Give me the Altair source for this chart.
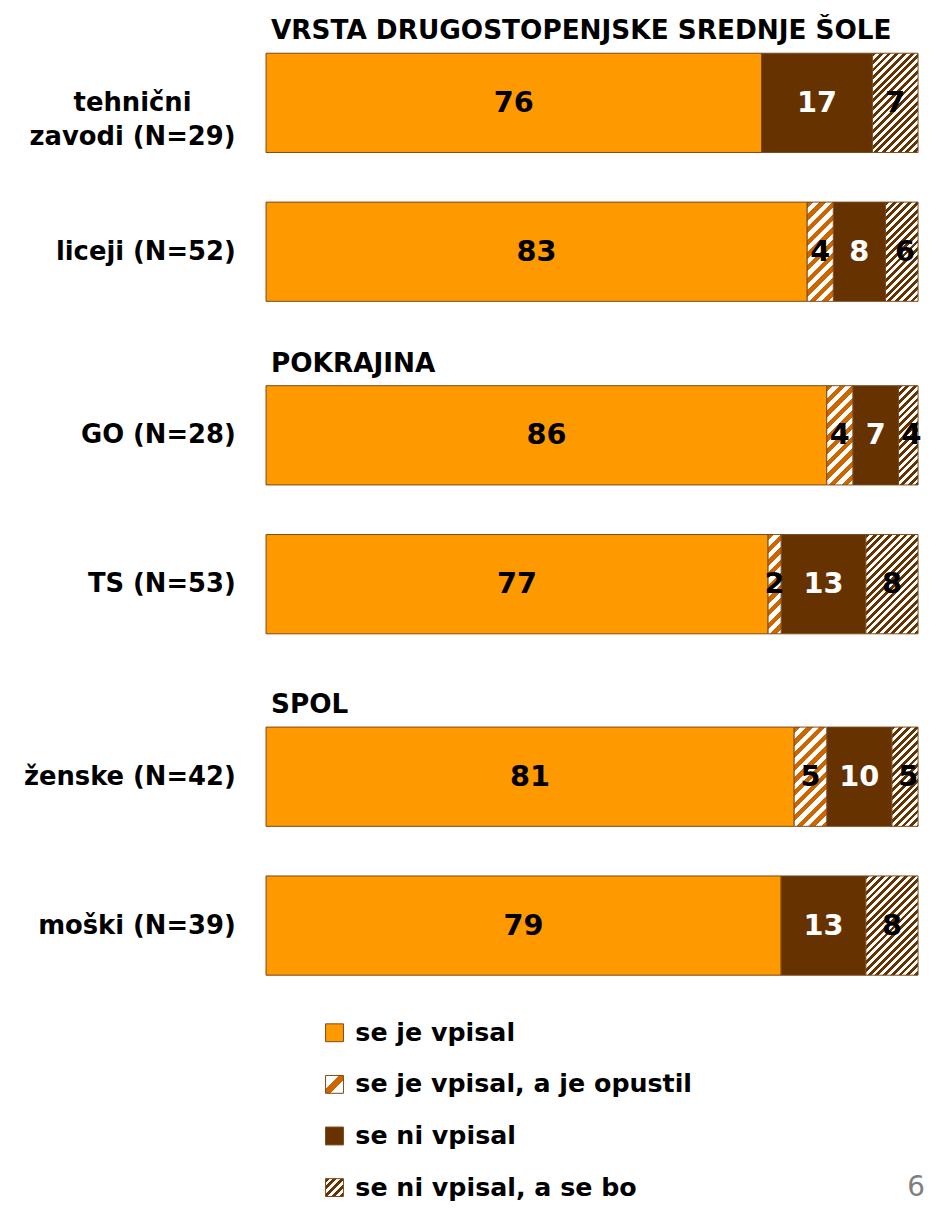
import math
import altair as alt
import pandas as pd

# ---------------- data ----------------
groups = ["VRSTA DRUGOSTOPENJSKE SREDNJE ŠOLE", "POKRAJINA", "SPOL"]
rows = ["tehnični\nzavodi (N=29)", "liceji (N=52)", "GO (N=28)", "TS (N=53)",
        "ženske (N=42)", "moški (N=39)"]
row_group = [0, 0, 1, 1, 2, 2]
categories = ["se je vpisal", "se je vpisal, a je opustil", "se ni vpisal",
              "se ni vpisal, a se bo"]
enrolled = [76, 83, 86, 77, 81, 79]
enrolled_dropped = [0, 4, 4, 2, 5, 0]
not_enrolled = [17, 8, 7, 13, 10, 13]
not_enrolled_will = [7, 6, 4, 8, 5, 8]
page_number = "6"

# ---------------- style ----------------
FONT = "DejaVu Sans"
ORANGE = "#FF9900"
BROWN = "#663300"
HATCH_ORANGE = "#CC6600"
EDGE = "#7A4A1A"
PW = 657          # plot width
STEP = 150        # band step (bar 100 px)
HATCHED = {categories[1]: (HATCH_ORANGE, 9.0), categories[3]: (BROWN, 5.5)}
MULTI = "indexof(datum.value, '\\n') >= 0"

series = [enrolled, enrolled_dropped, not_enrolled, not_enrolled_will]
recs = []
for i, r in enumerate(rows):
    s = 0
    for c, (cat, vals) in enumerate(zip(categories, series)):
        v = vals[i]
        if v > 0:
            recs.append(dict(group=groups[row_group[i]], row=r, cat=cat, order=c,
                             value=v, start=s, end=s + v, mid=s + v / 2))
        s += v
df = pd.DataFrame(recs)


def hatch(W, H, period, color, frac=0.5, bg="white"):
    denom = W * W + H * H
    dt = period * math.sqrt(2) * W / denom
    tmax = min(1.0, (W + H) * W / denom)
    stops = []
    t = 0.0
    while t < tmax:
        t1 = min(t + dt * frac, 1.0)
        t2 = min(t + dt, 1.0)
        stops += [{"offset": round(t, 5), "color": color},
                  {"offset": round(t1, 5), "color": color},
                  {"offset": round(t1, 5), "color": bg},
                  {"offset": round(t2, 5), "color": bg}]
        t = t2
    return {"gradient": "linear", "x1": 0, "y1": 0, "x2": 1,
            "y2": round(H / W, 5), "stops": stops}


def panel(gi, bottom_pad, title_offset):
    g = groups[gi]
    d = df[df["group"] == g]
    ydom = [r for r, k in zip(rows, row_group) if k == gi]
    po = bottom_pad / (2 * STEP)
    yenc = alt.Y("row:N", sort=ydom, title=None,
                 scale=alt.Scale(domain=ydom, paddingInner=1 / 3, paddingOuter=po, align=0),
                 axis=alt.Axis(labelFont=FONT, labelFontSize=26, labelFontWeight="bold",
                               labelColor="black", ticks=False, domain=False,
                               labelAlign={"condition": {"test": MULTI, "value": "center"}, "value": "right"},
                               labelPadding={"condition": {"test": MULTI, "value": 135}, "value": 31},
                               labelLineHeight=34, labelLimit=0, minExtent=260, maxExtent=260,
                               labelExpr="split(datum.label, '\\n')"))
    xscale = alt.Scale(domain=[0, 100], clamp=True, nice=False)
    xenc = alt.X("start:Q", scale=xscale, axis=None)
    base = alt.Chart(d)
    layers = [
        base.transform_filter(alt.FieldOneOfPredicate(field="cat", oneOf=[categories[0], categories[2]]))
        .mark_bar(stroke=EDGE, strokeWidth=1)
        .encode(x=xenc, x2="end:Q", y=yenc,
                fill=alt.Fill("cat:N", scale=alt.Scale(domain=categories,
                                                       range=[ORANGE, "white", BROWN, "white"]),
                              legend=None))
    ]
    for rec in d.to_dict("records"):
        if rec["cat"] in HATCHED:
            col, per = HATCHED[rec["cat"]]
            W = (min(rec["end"], 100) - rec["start"]) / 100 * PW
            layers.append(
                base.transform_filter(alt.FieldEqualPredicate(field="row", equal=rec["row"]))
                .transform_filter(alt.FieldEqualPredicate(field="cat", equal=rec["cat"]))
                .mark_bar(fill=hatch(W, 100, per, col), stroke=EDGE, strokeWidth=1)
                .encode(x=xenc, x2="end:Q", y=yenc)
            )
    layers.append(
        base.mark_text(font=FONT, fontSize=29, fontWeight="bold", baseline="middle")
        .encode(x=alt.X("mid:Q", scale=xscale, axis=None), y=yenc, text="value:Q",
                color=alt.condition(alt.datum.cat == categories[2], alt.value("white"), alt.value("black")))
    )
    return alt.layer(*layers).properties(
        width=PW, height=250 + bottom_pad,
        title=alt.TitleParams(text=g, anchor="start", frame="group", font=FONT, fontSize=26.5,
                              fontWeight="bold", color="black", offset=title_offset, dx=5))


p1 = panel(0, 30, 8)
p2 = panel(1, 39, 8)
p3 = panel(2, 12, 8)

# ---------------- custom legend ----------------
leg = pd.DataFrame({"cat": categories})
ly = alt.Y("cat:N", sort=categories, axis=None, title=None,
           scale=alt.Scale(type="point", domain=categories, padding=0.327, align=0.765))
leg_base = alt.Chart(leg)
leg_layers = [
    leg_base.transform_filter(alt.FieldOneOfPredicate(field="cat", oneOf=[categories[0], categories[2]]))
    .mark_square(size=324, filled=True, opacity=1, stroke=EDGE, strokeWidth=1)
    .encode(x=alt.value(69), y=ly,
            fill=alt.Fill("cat:N", scale=alt.Scale(domain=categories,
                                                   range=[ORANGE, "white", BROWN, "white"]),
                          legend=None)),
    leg_base.transform_filter(alt.FieldEqualPredicate(field="cat", equal=categories[1]))
    .mark_square(size=324, filled=True, opacity=1, stroke=EDGE, strokeWidth=1,
                 fill={"gradient": "linear", "x1": 0, "y1": 0, "x2": 1, "y2": 1,
                       "stops": [{"offset": 0, "color": "white"}, {"offset": 0.38, "color": "white"},
                                 {"offset": 0.38, "color": HATCH_ORANGE}, {"offset": 0.62, "color": HATCH_ORANGE},
                                 {"offset": 0.62, "color": "white"}, {"offset": 1, "color": "white"}]})
    .encode(x=alt.value(69), y=ly),
    leg_base.transform_filter(alt.FieldEqualPredicate(field="cat", equal=categories[3]))
    .mark_square(size=324, filled=True, opacity=1, stroke=EDGE, strokeWidth=1,
                 fill=hatch(18, 18, 5.5, BROWN))
    .encode(x=alt.value(69), y=ly),
    leg_base.mark_text(align="left", baseline="middle", font=FONT, fontSize=25.5, fontWeight="bold",
                       color="black")
    .encode(x=alt.value(90), y=ly, text="cat:N"),
    alt.Chart(pd.DataFrame({"cat": [categories[-1]], "label": [page_number]}))
    .mark_text(align="center", baseline="middle", font=FONT, fontSize=28, color="#7F7F7F")
    .encode(x=alt.value(655), y=ly, text="label:N"),
]
legend = alt.layer(*leg_layers).properties(width=PW, height=190)

chart = (
    alt.vconcat(p1, p2, p3, legend, spacing=20)
    .configure(padding={"left": 0, "top": 6, "right": 0, "bottom": 0}, background="white")
    .configure_view(stroke=None)
)
chart.save("out.html", embed_options={"renderer": "svg", "actions": False})
